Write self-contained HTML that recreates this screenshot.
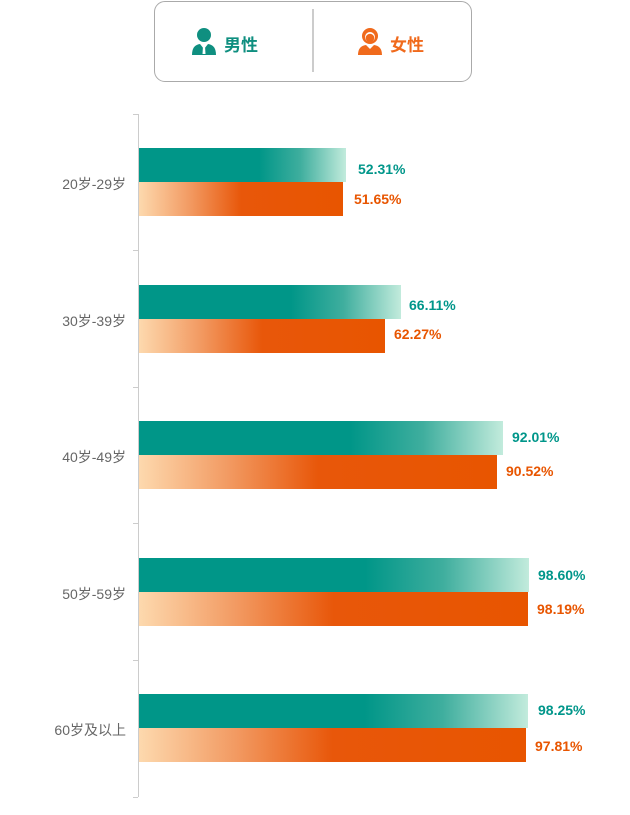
<!DOCTYPE html>
<html><head><meta charset="utf-8"><style>
body{margin:0;width:630px;height:815px;background:#fff;position:relative;font-family:"Liberation Sans","Noto Sans CJK SC",sans-serif;overflow:hidden}
.abs{position:absolute}
.g{background:linear-gradient(90deg,#009688 0%,#009688 58%,#3fae9e 78%,#c2ebdc 100%)}
.o{background:linear-gradient(90deg,#fdd9ae 0%,#f29a62 25%,#e8570a 50%,#e85500 100%)}
.lab{font-size:14px;color:#666;width:126px;text-align:right;left:0}
.vg{color:#00968a;font-weight:bold;font-size:14px}
.vo{color:#e85500;font-weight:bold;font-size:14px}
.tick{left:133px;width:5px;height:1px;background:#ccc}
</style></head><body>
<div class="abs" style="left:154px;top:1px;width:316px;height:79px;border:1.5px solid #aaa;border-radius:11px"></div>
<div class="abs" style="left:312px;top:9px;width:1.5px;height:63px;background:#ccc"></div>
<svg class="abs" style="left:191px;top:26px" width="26" height="30" viewBox="0 0 26 30">
<circle cx="13" cy="9" r="7" fill="#0f8f80"/><path d="M1 29 Q1 19 9 18 L13 23 L17 18 Q25 19 25 29Z" fill="#0f8f80"/><path d="M12 20 L14 20 L14.5 28 L11.5 28Z" fill="#fff"/></svg>
<div class="abs" style="left:224px;top:31px;font-size:17px;font-weight:bold;color:#0f8f80">男性</div>
<svg class="abs" style="left:357px;top:26px" width="26" height="30" viewBox="0 0 26 30">
<circle cx="13" cy="10" r="8" fill="#f06a1c"/><circle cx="13" cy="11" r="5" fill="#fff"/><circle cx="13" cy="12" r="4.3" fill="#f06a1c"/><path d="M1 29 Q1 20 9 19 L13 23 L17 19 Q25 20 25 29Z" fill="#f06a1c"/></svg>
<div class="abs" style="left:390px;top:31px;font-size:17px;font-weight:bold;color:#f06a1c">女性</div>
<div class="abs" style="left:138px;top:114px;width:1px;height:683px;background:#ccc"></div>
<div class="abs tick" style="top:114px"></div><div class="abs tick" style="top:250px"></div><div class="abs tick" style="top:387px"></div><div class="abs tick" style="top:523px"></div><div class="abs tick" style="top:660px"></div><div class="abs tick" style="top:797px"></div>

<div class="abs lab" style="top:174px">20岁-29岁</div>
<div class="abs g" style="left:139px;top:148px;width:207px;height:34px"></div>
<div class="abs o" style="left:139px;top:182px;width:204px;height:34px"></div>
<div class="abs vg" style="left:358px;top:161px">52.31%</div>
<div class="abs vo" style="left:354px;top:191px">51.65%</div>

<div class="abs lab" style="top:311px">30岁-39岁</div>
<div class="abs g" style="left:139px;top:285px;width:262px;height:34px"></div>
<div class="abs o" style="left:139px;top:319px;width:246px;height:34px"></div>
<div class="abs vg" style="left:409px;top:297px">66.11%</div>
<div class="abs vo" style="left:394px;top:326px">62.27%</div>

<div class="abs lab" style="top:447px">40岁-49岁</div>
<div class="abs g" style="left:139px;top:421px;width:364px;height:34px"></div>
<div class="abs o" style="left:139px;top:455px;width:358px;height:34px"></div>
<div class="abs vg" style="left:512px;top:429px">92.01%</div>
<div class="abs vo" style="left:506px;top:463px">90.52%</div>

<div class="abs lab" style="top:584px">50岁-59岁</div>
<div class="abs g" style="left:139px;top:558px;width:390px;height:34px"></div>
<div class="abs o" style="left:139px;top:592px;width:389px;height:34px"></div>
<div class="abs vg" style="left:538px;top:567px">98.60%</div>
<div class="abs vo" style="left:537px;top:601px">98.19%</div>

<div class="abs lab" style="top:720px">60岁及以上</div>
<div class="abs g" style="left:139px;top:694px;width:389px;height:34px"></div>
<div class="abs o" style="left:139px;top:728px;width:387px;height:34px"></div>
<div class="abs vg" style="left:538px;top:702px">98.25%</div>
<div class="abs vo" style="left:535px;top:738px">97.81%</div>
</body></html>
